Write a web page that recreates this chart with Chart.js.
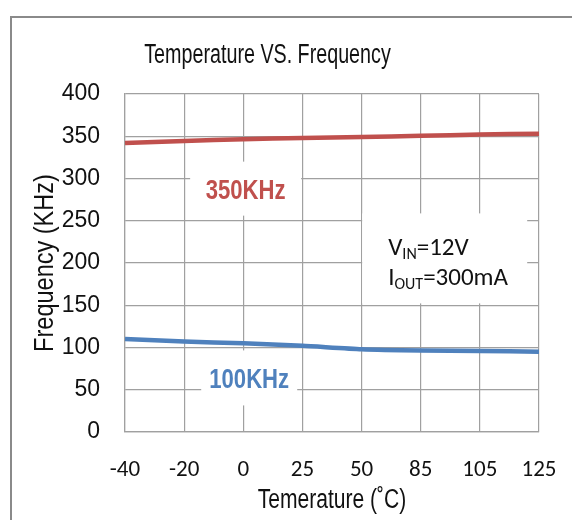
<!DOCTYPE html>
<html><head><meta charset="utf-8">
<script src="https://cdn.jsdelivr.net/npm/chart.js@4.4.1/dist/chart.umd.min.js"></script>
<style>html,body{margin:0;padding:0;background:#fff;}canvas{display:block;}</style>
</head><body>
<canvas id="c" width="572" height="520"></canvas>
<script>
// ---- data ----
const temperatures = ['-40', '-20', '0', '25', '50', '85', '105', '125'];
const freq350 = [342, 344.5, 346.5, 348, 349, 350.5, 352, 353];
const freq100 = [110, 107, 105, 102, 98, 96.5, 96, 95];
const seriesNames = ['350KHz', '100KHz'];
const chartTitle = 'Temperature VS. Frequency';
const xTitle = 'Temerature (˚C)';
const yTitle = 'Frequency (KHz)';
const yMin = 0, yMax = 400, yStep = 50;

const RED = '#C0504D', BLUE = '#4F81BD', GRID = '#A0A0A0', TXT = '#111';
const ARIAL = "'Liberation Sans', Arimo, Arial, sans-serif";
const CAL = "Carlito, Lato, sans-serif";

// draws horizontally condensed Arial-like text (Arial Narrow look)
function narrowText(ctx, text, x, y, size, sx, opts) {
  opts = opts || {};
  ctx.save();
  ctx.translate(x, y);
  if (opts.rotate) ctx.rotate(opts.rotate);
  ctx.scale(sx, 1);
  ctx.font = (opts.bold ? 'bold ' : '') + size + 'px ' + ARIAL;
  ctx.fillStyle = opts.color || TXT;
  ctx.textAlign = 'center';
  ctx.textBaseline = 'alphabetic';
  ctx.fillText(text, 0, 0);
  ctx.restore();
}

function boxLabel(ctx, cx, cy, text, color, w, h) {
  ctx.save();
  ctx.fillStyle = '#fff';
  ctx.fillRect(cx - w / 2, cy - h / 2, w, h);
  ctx.restore();
  narrowText(ctx, text, cx, cy + 10.5, 28, 0.79, { bold: true, color: color });
}

function subText(ctx, x, y, main, sub, rest) {
  ctx.font = '25px ' + CAL;
  ctx.fillText(main, x, y);
  x += ctx.measureText(main).width;
  ctx.font = '16px ' + CAL;
  ctx.fillText(sub, x, y + 4);
  x += ctx.measureText(sub).width;
  ctx.font = '25px ' + CAL;
  ctx.fillText(rest, x, y);
}

const annot = {
  id: 'annot',
  beforeDraw(chart) {
    const ctx = chart.ctx;
    ctx.save();
    ctx.strokeStyle = '#8A8A8A';
    ctx.lineWidth = 2;
    ctx.beginPath();
    ctx.moveTo(11, 520); ctx.lineTo(11, 17); ctx.lineTo(572, 17);
    ctx.stroke();
    ctx.restore();
  },
  afterDatasetsDraw(chart) {
    const { ctx, chartArea: ca, scales: { x, y } } = chart;
    // chart title and axis titles
    narrowText(ctx, chartTitle, 267.5, 63, 27, 0.73);
    narrowText(ctx, xTitle, (ca.left + ca.right) / 2, 508, 27, 0.78);
    narrowText(ctx, yTitle, 53, (ca.top + ca.bottom) / 2, 28, 0.84, { rotate: -Math.PI / 2 });
    // series labels
    boxLabel(ctx, x.getPixelForValue(2.04), y.getPixelForValue(288), seriesNames[0], RED, 111, 54);
    boxLabel(ctx, x.getPixelForValue(2.1), y.getPixelForValue(64), seriesNames[1], BLUE, 96, 55);
    // conditions box
    const tx = x.getPixelForValue(4.45);
    const b1 = y.getPixelForValue(209);
    const b2 = y.getPixelForValue(174);
    ctx.save();
    ctx.fillStyle = '#fff';
    ctx.fillRect(tx - 26, b1 - 42, 165, 90);
    ctx.fillStyle = TXT;
    ctx.textAlign = 'left';
    ctx.textBaseline = 'alphabetic';
    subText(ctx, tx, b1, 'V', 'IN', '=12V');
    subText(ctx, tx, b2, 'I', 'OUT', '=300mA');
    ctx.restore();
  }
};

new Chart(document.getElementById('c'), {
  type: 'line',
  data: {
    labels: temperatures,
    datasets: [
      { label: seriesNames[0], data: freq350, borderColor: RED, borderWidth: 4.5, pointRadius: 0, tension: 0.2, fill: false },
      { label: seriesNames[1], data: freq100, borderColor: BLUE, borderWidth: 4.5, pointRadius: 0, tension: 0.2, fill: false }
    ]
  },
  options: {
    responsive: false,
    animation: false,
    devicePixelRatio: 1,
    layout: { padding: { left: 0, right: 33, top: 94, bottom: 0 } },
    plugins: {
      legend: { display: false },
      tooltip: { enabled: false },
      title: { display: false }
    },
    scales: {
      x: {
        type: 'category',
        offset: false,
        grid: { color: GRID, lineWidth: 1.2, drawTicks: false, offset: false },
        border: { display: true, color: GRID, width: 1.2 },
        ticks: { color: TXT, font: { family: CAL, size: 23 }, padding: 24, maxRotation: 0, autoSkip: false },
        afterFit(s) { s.height = 88; s.paddingLeft = 0; s.paddingRight = 0; }
      },
      y: {
        min: yMin, max: yMax,
        grid: { color: GRID, lineWidth: 1.2, drawTicks: false },
        border: { display: true, color: GRID, width: 1.2 },
        ticks: { stepSize: yStep, color: TXT, font: { family: ARIAL, size: 23 }, padding: 25 },
        afterFit(s) { s.width = 125; s.paddingTop = 0; s.paddingBottom = 0; }
      }
    }
  },
  plugins: [annot]
});
</script>
</body></html>
